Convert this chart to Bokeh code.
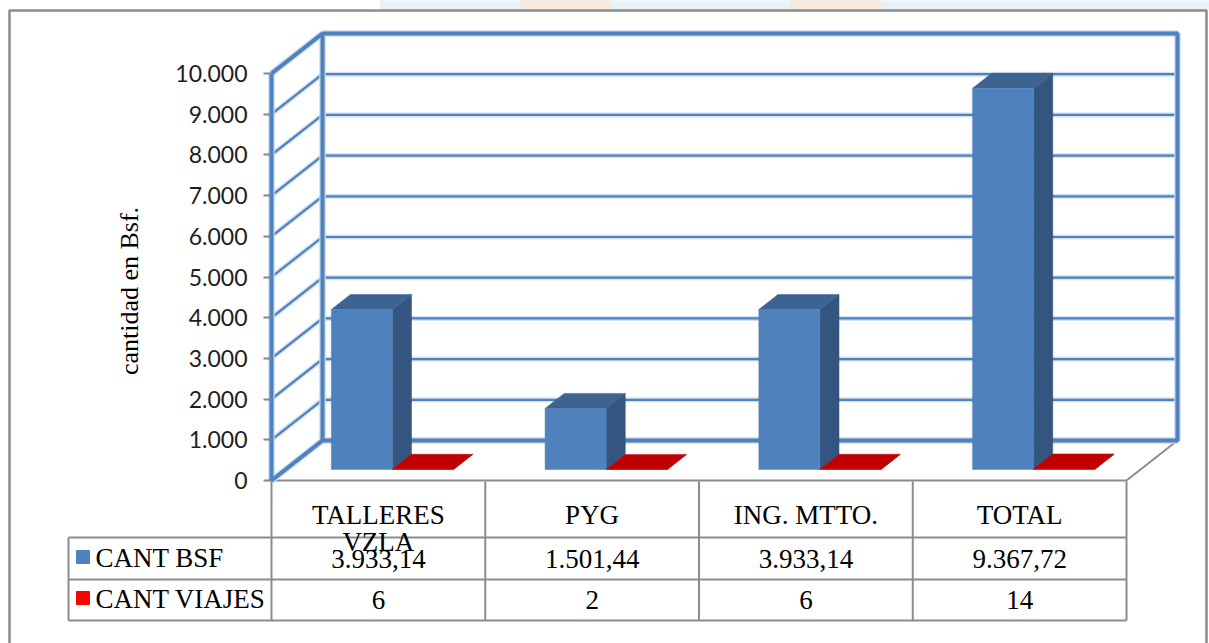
from bokeh.plotting import figure
from bokeh.models import Range1d, FixedTicker, LabelSet, ColumnDataSource
from bokeh.embed import file_html
from bokeh.resources import INLINE

# ---------------- data ----------------
categories = ["TALLERES VZLA", "PYG", "ING. MTTO.", "TOTAL"]
cant_bsf = [3933.14, 1501.44, 3933.14, 9367.72]
cant_viajes = [6, 2, 6, 14]
series_names = ["CANT BSF", "CANT VIAJES"]
y_ticks = [0, 1000, 2000, 3000, 4000, 5000, 6000, 7000, 8000, 9000, 10000]
y_tick_labels = ["0", "1.000", "2.000", "3.000", "4.000", "5.000",
                 "6.000", "7.000", "8.000", "9.000", "10.000"]
y_title = "cantidad en Bsf."

# ---------------- layout constants ----------------
W, H = 1209, 643
FRONT_LEFT_PX = 271.0      # screen x of category 0 on the front plane
CAT_PX = 213.75            # width of one category on the front plane
ZERO_PX = 480.0            # screen y of value 0 on the front plane
PX_PER_UNIT = 407.0 / 10000.0
DX = 51.0 / CAT_PX         # depth vector (category units)
DY = 40.0 / PX_PER_UNIT    # depth vector (value units)
F0, F1 = 0.275, 0.65       # bar depth (fraction of floor depth)
BAR_W = 1 / 3.5            # gap width 150%
BLUE = "#4F81BD"
GREY = "#8C8C8C"
SERIF_NAME = "Times New Roman"

n = len(categories)
top = y_ticks[-1]


def fmt_es(v):
    s = "{:,.2f}".format(v)
    return s.replace(",", "X").replace(".", ",").replace("X", ".")


def cat_px(i):
    return FRONT_LEFT_PX + i * CAT_PX


p = figure(width=W, height=H, output_backend="svg", toolbar_location=None,
           x_range=Range1d(-FRONT_LEFT_PX / CAT_PX, (W - FRONT_LEFT_PX) / CAT_PX),
           y_range=Range1d(-(H - ZERO_PX) / PX_PER_UNIT, ZERO_PX / PX_PER_UNIT),
           min_border=0, outline_line_color=None,
           background_fill_color="white", border_fill_color="white")
p.extra_x_ranges = {"px": Range1d(0, W)}
p.extra_y_ranges = {"px": Range1d(H, 0)}
p.grid.visible = False
p.xaxis.visible = False

# ---------------- page decoration ----------------
p.quad(left=[380], right=[W], top=[0], bottom=[9], color="#E7F3F9",
       x_range_name="px", y_range_name="px")
p.quad(left=[520, 790], right=[610, 880], top=[0, 0], bottom=[9, 9],
       color="#F6EBDD", x_range_name="px", y_range_name="px")
p.line([9, 9, 1206, 1206], [H + 10, 10, 10, H + 10], line_color=GREY,
       line_width=2.5, x_range_name="px", y_range_name="px")

# ---------------- walls ----------------
grid_vals = y_ticks[1:-1]
back_xs = [[DX, n + DX] for v in grid_vals]
back_ys = [[v + DY, v + DY] for v in grid_vals]
side_xs = [[0, DX] for v in grid_vals]
side_ys = [[v, v + DY] for v in grid_vals]
p.multi_line(back_xs + side_xs, back_ys + side_ys, line_color="#D3E0F0", line_width=5)
p.multi_line(back_xs + side_xs, back_ys + side_ys, line_color=BLUE, line_width=2.2)

# floor (grey edges)
p.line([0, n, n + DX], [0, 0, DY], line_color=GREY, line_width=2)

thick_xs = [[DX, n + DX, n + DX, DX, DX], [0, 0, DX], [0, DX]]
thick_ys = [[DY, DY, top + DY, top + DY, DY], [top, 0, DY], [top, top + DY]]
p.multi_line(thick_xs, thick_ys, line_color="#C8D8EE", line_width=6.5)
p.multi_line(thick_xs, thick_ys, line_color=BLUE, line_width=4)

# ---------------- bars ----------------
face_colors = [("#4F81BD", "#34557F", "#3D6391"), ("#FF0000", "#9E0000", "#C00000")]
for s, vals in enumerate([cant_bsf, cant_viajes]):
    x0 = [i + 0.75 * BAR_W + s * BAR_W for i in range(n)]
    x1 = [a + BAR_W for a in x0]
    front, side, topc = face_colors[s]
    side_xs_b = [[b + F0 * DX, b + F1 * DX, b + F1 * DX, b + F0 * DX] for b in x1]
    side_ys_b = [[F0 * DY, F1 * DY, v + F1 * DY, v + F0 * DY] for v in vals]
    top_xs_b = [[a + F0 * DX, b + F0 * DX, b + F1 * DX, a + F1 * DX] for a, b in zip(x0, x1)]
    top_ys_b = [[v + F0 * DY, v + F0 * DY, v + F1 * DY, v + F1 * DY] for v in vals]
    p.patches(side_xs_b, side_ys_b, fill_color=side, line_color=side, line_width=0.5)
    p.patches(top_xs_b, top_ys_b, fill_color=topc, line_color=topc, line_width=0.5)
    p.quad(left=[a + F0 * DX for a in x0], right=[b + F0 * DX for b in x1],
           bottom=[F0 * DY] * n, top=[v + F0 * DY for v in vals],
           fill_color=front, line_color=front, line_width=0.5)

# ---------------- data table ----------------
ROW_HDR_BOT, ROW_1_BOT, ROW_2_BOT = 537, 579, 620
LEG_LEFT = 68
tbl_xs = [[cat_px(i), cat_px(i)] for i in range(n + 1)]
tbl_ys = [[ZERO_PX + 1, ROW_2_BOT] for i in range(n + 1)]
tbl_xs += [[LEG_LEFT, cat_px(n)] for r in (ROW_HDR_BOT, ROW_1_BOT, ROW_2_BOT)]
tbl_ys += [[r, r] for r in (ROW_HDR_BOT, ROW_1_BOT, ROW_2_BOT)]
tbl_xs += [[LEG_LEFT, LEG_LEFT]]
tbl_ys += [[ROW_HDR_BOT, ROW_2_BOT]]
p.multi_line(tbl_xs, tbl_ys, line_color=GREY, line_width=2,
             x_range_name="px", y_range_name="px")

line1, line2 = [], []
for c in categories:
    if len(c) > 10 and " " in c:
        a, b = c.rsplit(" ", 1)
    else:
        a, b = c, ""
    line1.append(a)
    line2.append(b)
centers = [cat_px(i + 0.5) for i in range(n)]

cell_x = centers * 4
cell_y = [514] * n + [541] * n + [558] * n + [599] * n
cell_t = line1 + line2 + [fmt_es(v) for v in cant_bsf] + [str(v) for v in cant_viajes]
cells = ColumnDataSource(dict(x=cell_x, y=cell_y, t=cell_t))
p.add_layout(LabelSet(x="x", y="y", text="t", source=cells,
                      text_font=SERIF_NAME, text_font_size="27px", text_color="#000000",
                      text_align="center", text_baseline="middle",
                      x_range_name="px", y_range_name="px"))

legsrc = ColumnDataSource(dict(x=[95, 95], y=[557, 598], t=series_names))
p.add_layout(LabelSet(x="x", y="y", text="t", source=legsrc,
                      text_font=SERIF_NAME, text_font_size="27px", text_color="#000000",
                      text_align="left", text_baseline="middle",
                      x_range_name="px", y_range_name="px"))
p.quad(left=[76, 76], right=[89, 89], top=[550, 591], bottom=[563, 604],
       color=["#4F81BD", "#FF0000"], x_range_name="px", y_range_name="px")

# ---------------- vertical axis ----------------
ax = p.yaxis[0]
ax.fixed_location = 0
ax.bounds = (-700, y_ticks[-1])
ax.ticker = FixedTicker(ticks=y_ticks)
ax.major_label_overrides = {t: l for t, l in zip(y_ticks, y_tick_labels)}
ax.axis_line_color = None
ax.major_tick_out = 8
ax.major_tick_in = 0
ax.major_tick_line_color = "#868686"
ax.major_tick_line_width = 2
ax.minor_tick_line_color = None
ax.major_label_text_font = "Lato"
ax.major_label_text_font_size = "23px"
ax.major_label_text_color = "#1E1E1E"
ax.major_label_standoff = 16
ax.axis_label = y_title
ax.axis_label_text_font = SERIF_NAME
ax.axis_label_text_font_size = "26px"
ax.axis_label_text_font_style = "normal"
ax.axis_label_text_color = "#000000"
ax.axis_label_standoff = 28

open("out.html", "w").write(file_html(p, INLINE))
